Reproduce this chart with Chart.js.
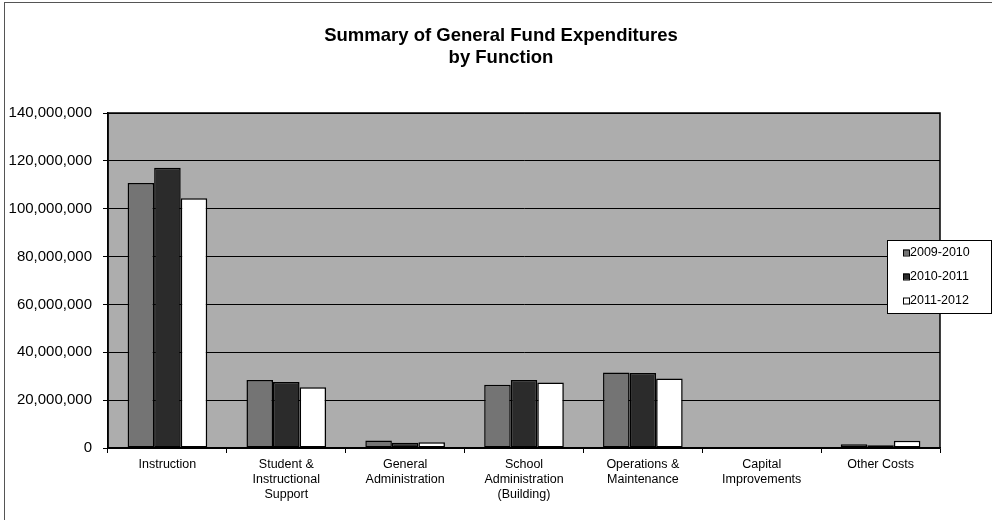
<!DOCTYPE html>
<html>
<head>
<meta charset="utf-8">
<script src="https://cdn.jsdelivr.net/npm/chart.js@4.4.0/dist/chart.umd.min.js"></script>
<style>
  html, body { margin: 0; padding: 0; background: #fff; }
  #wrap { width: 992px; height: 520px; }
</style>
</head>
<body>
<div id="wrap"><canvas id="fundChart" width="992" height="520"></canvas></div>
<script>
// --- DATA ---
const CATEGORIES = [
    ['Instruction'],
    ['Student &', 'Instructional', 'Support'],
    ['General', 'Administration'],
    ['School', 'Administration', '(Building)'],
    ['Operations &', 'Maintenance'],
    ['Capital', 'Improvements'],
    ['Other Costs']
];
const SERIES_LABELS = ['2009-2010', '2010-2011', '2011-2012'];
const FY_2009_2010 = [110700000, 28400000, 3100000, 26400000, 31600000, 0, 1600000];
const FY_2010_2011 = [117100000, 27600000, 2200000, 28400000, 31300000, 0, 1200000];
const FY_2011_2012 = [104400000, 25400000, 2400000, 27400000, 29000000, 0, 3000000];
const Y_TICKS = [0, 20000000, 40000000, 60000000, 80000000, 100000000, 120000000, 140000000];
const TITLE_LINES = ['Summary of General Fund Expenditures', 'by Function'];

const FILLS = ['#747474', '#2b2b2b', '#ffffff'];
const FONT = '"Liberation Sans", Arial, sans-serif';

// plot background, frame and plot border
const plotBackground = {
    id: 'plotBackground',
    beforeDraw(chart) {
        const { ctx, chartArea: a } = chart;
        ctx.save();
        ctx.fillStyle = '#adadad';
        ctx.fillRect(a.left, a.top, a.right - a.left, a.bottom - a.top);
        ctx.strokeStyle = '#555';
        ctx.lineWidth = 1;
        ctx.strokeRect(4.5, 2.5, 1200, 1200);
        ctx.restore();
    },
    afterDatasetsDraw(chart) {
        const { ctx, chartArea: a } = chart;
        ctx.save();
        ctx.strokeStyle = '#000';
        ctx.lineWidth = 1.5;
        ctx.strokeRect(a.left, a.top, a.right - a.left, a.bottom - a.top);
        ctx.restore();
    }
};

// title drawn centred on the page
const pageTitle = {
    id: 'pageTitle',
    afterDraw(chart) {
        const { ctx } = chart;
        ctx.save();
        ctx.fillStyle = '#000';
        ctx.font = 'bold 18.5px ' + FONT;
        ctx.textAlign = 'center';
        ctx.textBaseline = 'middle';
        TITLE_LINES.forEach((line, i) => ctx.fillText(line, 501, 36 + i * 22));
        ctx.restore();
    }
};

// boxed legend overlapping the right edge of the plot
const boxLegend = {
    id: 'boxLegend',
    afterDraw(chart) {
        const { ctx } = chart;
        const x = 887, y = 240, w = 104, h = 73;
        ctx.save();
        ctx.fillStyle = '#fff';
        ctx.fillRect(x, y, w, h);
        ctx.strokeStyle = '#000';
        ctx.lineWidth = 1;
        ctx.strokeRect(x + 0.5, y + 0.5, w, h);
        ctx.font = '12.5px ' + FONT;
        ctx.textBaseline = 'middle';
        chart.data.datasets.forEach((ds, i) => {
            const cy = y + 13 + i * 24;
            ctx.fillStyle = ds.backgroundColor;
            ctx.fillRect(903, cy - 3.5, 6, 6);
            ctx.strokeStyle = '#000';
            ctx.strokeRect(903.5, cy - 3, 6, 6);
            ctx.fillStyle = '#000';
            ctx.fillText(ds.label, 910, cy);
        });
        ctx.restore();
    }
};

function renderChart() {
    const ctx = document.getElementById('fundChart').getContext('2d');
    const values = [FY_2009_2010, FY_2010_2011, FY_2011_2012];

    new Chart(ctx, {
        type: 'bar',
        data: {
            labels: CATEGORIES,
            datasets: SERIES_LABELS.map((label, i) => ({
                label: label,
                data: values[i],
                backgroundColor: FILLS[i],
                borderColor: '#000',
                borderWidth: 1.5,
                borderSkipped: false,
                barPercentage: 1,
                categoryPercentage: 0.67
            }))
        },
        options: {
            responsive: false,
            animation: false,
            layout: { padding: { left: 4, right: 52, top: 113, bottom: 0 } },
            plugins: {
                legend: { display: false },
                title: { display: false },
                tooltip: { enabled: false }
            },
            scales: {
                x: {
                    afterFit(scale) { scale.height = 72; },
                    grid: {
                        offset: true,
                        drawOnChartArea: false,
                        drawTicks: true,
                        tickLength: 5,
                        color: '#000'
                    },
                    border: { color: '#000', width: 1.5 },
                    ticks: {
                        color: '#000',
                        padding: 4,
                        maxRotation: 0,
                        autoSkip: false,
                        font: { family: FONT, size: 12.5, lineHeight: 1.2 }
                    }
                },
                y: {
                    min: 0,
                    max: 140000000,
                    afterFit(scale) { scale.width = 104; },
                    afterBuildTicks(scale) { scale.ticks = Y_TICKS.map(v => ({ value: v })); },
                    grid: { color: '#000', lineWidth: 1, tickLength: 5 },
                    border: { color: '#000', width: 1.5 },
                    ticks: {
                        color: '#000',
                        padding: 11,
                        font: { family: FONT, size: 15 },
                        callback: v => v.toLocaleString('en-US')
                    }
                }
            }
        },
        plugins: [plotBackground, pageTitle, boxLegend]
    });
}

document.addEventListener('DOMContentLoaded', renderChart);
</script>
</body>
</html>
